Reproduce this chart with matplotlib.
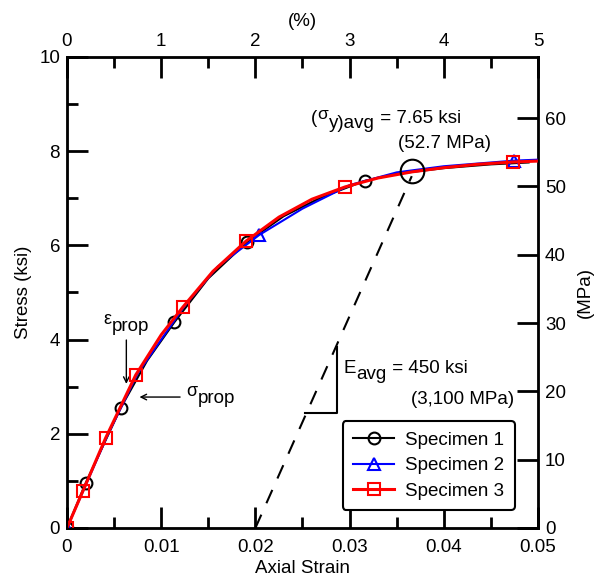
import numpy as np
import matplotlib
matplotlib.use("Agg")
import matplotlib.pyplot as plt

plt.rcParams["font.family"] = ["Liberation Sans", "DejaVu Sans"]

# specimen data (axial strain, stress in ksi)
strain_1 = [0, 0.0020, 0.0057, 0.0085, 0.0114, 0.0150, 0.0191, 0.0230, 0.0270, 0.0316, 0.0350, 0.0400, 0.0450, 0.0490]
stress_1 = [0, 0.96, 2.55, 3.55, 4.37, 5.30, 6.07, 6.62, 7.02, 7.37, 7.52, 7.64, 7.72, 7.76]
marks_1 = [0, 1, 2, 4, 6, 9]

strain_2 = [0, 0.0042, 0.0075, 0.0125, 0.0160, 0.0204, 0.0250, 0.0300, 0.0350, 0.0400, 0.0475, 0.0500]
stress_2 = [0, 1.92, 3.28, 4.72, 5.55, 6.22, 6.78, 7.28, 7.55, 7.68, 7.80, 7.82]
marks_2 = [0, 5, 10]

strain_3 = [0, 0.0017, 0.0041, 0.0073, 0.0100, 0.0123, 0.0155, 0.0190, 0.0225, 0.0260, 0.0295, 0.0330, 0.0366, 0.0400, 0.0435, 0.0473, 0.0500]
stress_3 = [0, 0.79, 1.91, 3.25, 4.10, 4.69, 5.45, 6.09, 6.60, 6.98, 7.24, 7.43, 7.56, 7.65, 7.72, 7.77, 7.79]
marks_3 = [0, 1, 2, 3, 5, 7, 10, 15]

E_avg = 450.0          # ksi
offset = 0.02          # offset strain of the dashed line
yield_strain = 0.0366
yield_stress = 7.58
KSI_TO_MPA = 6.895
FS = 13.5


def piece_text(ax, x, y, pieces):
    # pieces: (string, vertical shift in points, font size), drawn one after the other
    prev = None
    for txt, dy, size in pieces:
        if prev is None:
            prev = ax.annotate(txt, xy=(x, y), xytext=(0, dy), textcoords="offset points",
                               fontsize=size, va="baseline")
        else:
            prev = ax.annotate(txt, xy=(1, y), xycoords=(prev, ax.transData), xytext=(0.3, dy),
                               textcoords="offset points", fontsize=size, va="baseline")


fig = plt.figure(figsize=(5.96, 5.82), dpi=100)
ax = fig.add_axes([0.1124, 0.0928, 0.7903, 0.8093])

ax.plot(strain_1, stress_1, color="black", lw=1.5, marker="o", ms=8.5, mfc="none",
        mew=1.5, markevery=marks_1, label="Specimen 1", zorder=3)
ax.plot(strain_2, stress_2, color="blue", lw=1.5, marker="^", ms=9, mfc="none",
        mew=1.5, markevery=marks_2, label="Specimen 2", zorder=4)
ax.plot(strain_3, stress_3, color="red", lw=2.2, marker="s", ms=8, mfc="none",
        mew=1.5, markevery=marks_3, label="Specimen 3", zorder=5)

# offset line
xs = np.array([offset, yield_strain])
ax.plot(xs, E_avg * (xs - offset), color="black", lw=1.5, dashes=(7, 6), zorder=2)
ax.plot([yield_strain], [yield_stress], marker="o", ms=17, mfc="none", mec="black",
        mew=1.5, zorder=6)

# slope triangle
ax.plot([0.0253, 0.0287, 0.0287], [2.44, 2.44, 3.84], color="black", lw=1.5)

piece_text(ax, 0.0293, 3.3, [("E", 0, FS), ("avg", -4.5, FS), (" = 450 ksi", 0, FS)])
ax.text(0.0475, 2.72, "(3,100 MPa)", fontsize=FS, va="center", ha="right")
piece_text(ax, 0.0259, 8.6, [("(", 0, FS), ("σ", 2.5, FS - 1), ("y)avg", -3.5, FS),
                              (" = 7.65 ksi", 0, FS)])
ax.text(0.0401, 8.17, "(52.7 MPa)", fontsize=FS, va="center", ha="center")

ax.annotate("", xy=(0.0063, 3.0), xytext=(0.0063, 4.05),
            arrowprops=dict(arrowstyle="->", color="black", lw=1))
piece_text(ax, 0.0039, 4.25, [("ε", 3, FS - 0.5), ("prop", -2, FS)])
ax.annotate("", xy=(0.0074, 2.78), xytext=(0.0123, 2.78),
            arrowprops=dict(arrowstyle="->", color="black", lw=1))
piece_text(ax, 0.0127, 2.72, [("σ", 3, FS - 0.5), ("prop", -2, FS)])

ax.set_xlim(0, 0.05)
ax.set_ylim(0, 10)
ax.set_xticks(np.arange(0, 0.051, 0.01))
ax.set_xticklabels(["0", "0.01", "0.02", "0.03", "0.04", "0.05"])
ax.set_xticks(np.arange(0.005, 0.05, 0.01), minor=True)
ax.set_yticks(np.arange(0, 11, 2))
ax.set_yticks(np.arange(1, 10, 2), minor=True)
ax.set_xlabel("Axial Strain", fontsize=FS, labelpad=3)
ax.set_ylabel("Stress (ksi)", fontsize=FS, labelpad=5)

for s in ax.spines.values():
    s.set_linewidth(2)
ax.tick_params(which="major", direction="in", length=15, width=2, labelsize=FS, pad=5)
ax.tick_params(axis="x", which="major", pad=8)
ax.tick_params(which="minor", direction="in", length=8, width=2)
ax.tick_params(top=False, right=False, which="both")

# top axis in percent
axt = ax.twiny()
axt.set_xlim(0, 5)
axt.set_xticks(range(6))
axt.set_xticks(np.arange(0.5, 5, 1), minor=True)
axt.set_xlabel("(%)", fontsize=FS, labelpad=5)
axt.tick_params(which="major", direction="in", length=15, width=2, labelsize=FS, pad=5)
axt.tick_params(which="minor", direction="in", length=8, width=2)

# right axis in MPa
axr = ax.twinx()
axr.set_ylim(0, 10 * KSI_TO_MPA)
axr.set_yticks(range(0, 61, 10))
axr.set_ylabel("(MPa)", fontsize=FS, labelpad=8)
axr.tick_params(which="major", direction="in", length=15, width=2, labelsize=FS, pad=5)

leg = ax.legend(loc="lower right", bbox_to_anchor=(0.951, 0.038), borderaxespad=0,
                fontsize=FS, frameon=True, fancybox=True, edgecolor="black", framealpha=1,
                handlelength=2.2, handletextpad=0.6, borderpad=0.55, labelspacing=0.45)
leg.get_frame().set_linewidth(1.5)
leg.set_zorder(10)

fig.savefig("out.png", dpi=100)
